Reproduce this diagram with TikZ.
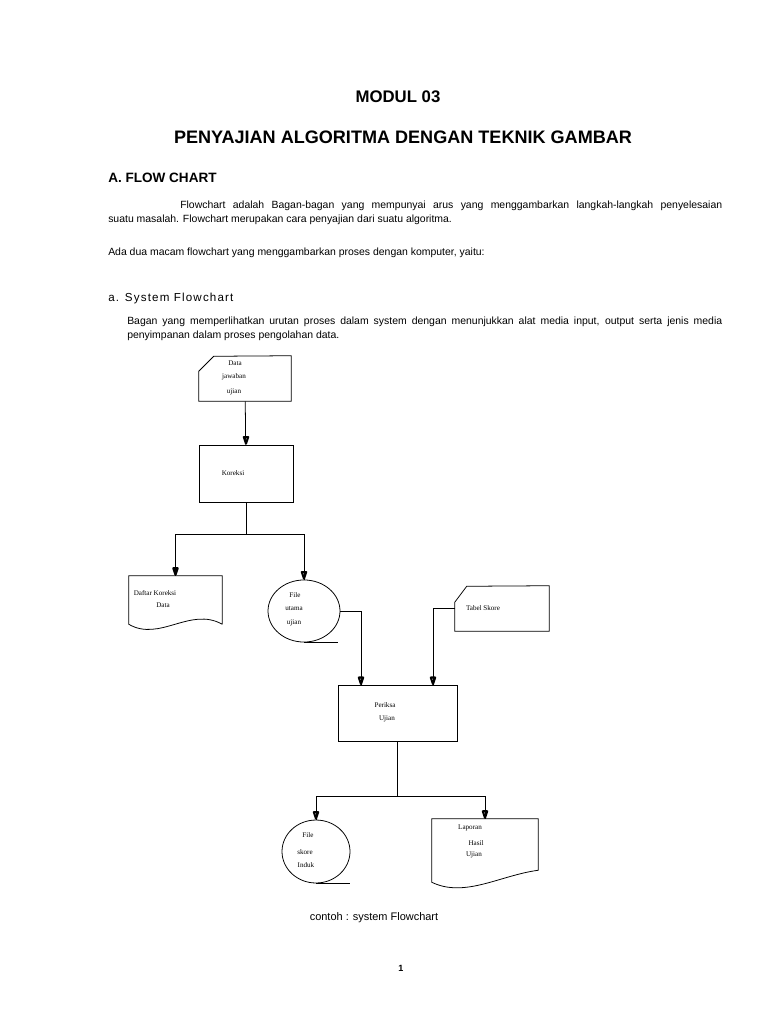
\documentclass[tikz,border=0pt]{standalone}
\usepackage{fontspec}
\setmainfont{Liberation Sans}
\newfontfamily\labelfont{Liberation Serif}
\usetikzlibrary{arrows.meta,positioning,shapes.geometric}

\begin{document}
\begin{tikzpicture}[x=0.7751pt,y=0.7751pt,
  every node/.style={inner sep=0pt},
  wire/.style={line width=0.6pt},
  tipdown/.pic={\draw[line width=1.6pt,line join=round] (0,1) -- (-2.2,7.5) -- (2.2,7.5) -- cycle;},
  proc/.style={draw,line width=0.6pt,rectangle},
  tape/.style={draw,line width=0.6pt,ellipse},
  docbox/.style={rectangle},
  lbl/.style={font=\labelfont\fontsize{5.5}{6.5}\selectfont},
  body/.style={font=\fontsize{8.1}{10}\selectfont,anchor=west}]
  \useasboundingbox (0,0) rectangle (768,-1024);
  % headings and text
  \node[font=\bfseries\fontsize{13}{15}\selectfont] (modul) at (398,-97) {MODUL 03};
  \node[font=\bfseries\fontsize{14}{16}\selectfont] (judul) at (403,-137) {PENYAJIAN ALGORITMA DENGAN TEKNIK GAMBAR};
  \node[font=\bfseries\fontsize{10.5}{12}\selectfont,anchor=west] (bagA) at (108,-178) {A. FLOW CHART};
  \node[body] (intro1) at (180,-206) {\makebox[420.1pt][s]{Flowchart adalah Bagan-bagan yang mempunyai arus yang menggambarkan langkah-langkah penyelesaian}};
  \node[body] (intro2) at (108,-220) {suatu masalah. Flowchart merupakan cara penyajian dari suatu algoritma.};
  \node[body] (macam) at (108,-253) {Ada dua macam flowchart yang menggambarkan proses dengan komputer, yaitu:};
  \node[body,font=\addfontfeatures{LetterSpace=10}\fontsize{9}{10}\selectfont] (sysfc) at (108,-298) {a. System Flowchart};
  \node[body] (bagan1) at (127,-322) {\makebox[461.2pt][s]{Bagan yang memperlihatkan urutan proses dalam system dengan menunjukkan alat media input, output serta jenis media}};
  \node[body] (bagan2) at (127,-336) {penyimpanan dalam proses pengolahan data.};
  \node[body,font=\fontsize{8.5}{10}\selectfont,anchor=center] (caption) at (374,-918) {contoh : system Flowchart};
  \node[font=\bfseries\fontsize{7}{8}\selectfont] (hal) at (401,-968) {1};
  % flowchart shapes
  \node[docbox,minimum width=71.3pt,minimum height=34.9pt] (jawaban) at (245,-378.5) {};
  \draw[wire] (jawaban.north east) -- (jawaban.south east) -- (jawaban.south west) -- ++(0,30) -- ++(15,15) -- cycle;
  \node[proc,minimum width=72.9pt,minimum height=44.2pt] (koreksi) at (246,-473.5) {};
  \node[docbox,minimum width=72.1pt,minimum height=37.2pt] (daftar) at (175.5,-600) {};
  \draw[wire] (daftar.south east) -- (daftar.north east) -- (daftar.north west) -- (daftar.south west) .. controls +(31,-18) and +(-32,18) .. (daftar.south east);
  \node[tape,minimum width=55.8pt,minimum height=48.1pt] (utama) at (304,-611) {};
  \draw[wire] (utama.south) -- ++(34,0);
  \node[docbox,minimum width=72.9pt,minimum height=34.9pt] (skore) at (502,-608.5) {};
  \draw[wire] (skore.north east) -- (skore.south east) -- (skore.south west) -- ++(0,29) -- ++(12,16) -- cycle;
  \node[proc,minimum width=92.2pt,minimum height=43.4pt] (periksa) at (397.5,-713) {};
  \node[tape,minimum width=52.7pt,minimum height=48.8pt] (induk) at (316,-851.5) {};
  \draw[wire] (induk.south) -- ++(34,0);
  \node[docbox,minimum width=82.2pt,minimum height=48.8pt] (laporan) at (485,-850.5) {};
  \draw[wire] (laporan.north west) -- (laporan.south west) .. controls +(33,-16) and +(-38,-5) .. ([yshift=9.3pt]laporan.south east) -- (laporan.north east) -- cycle;
  % labels
  \node[lbl] (t1) at (235,-363) {Data};
  \node[lbl] (t2) at (234,-377) {jawaban};
  \node[lbl] (t3) at (234,-392) {ujian};
  \node[lbl] (t4) at (233,-473) {Koreksi};
  \node[lbl] (t5) at (155,-593) {Daftar Koreksi};
  \node[lbl] (t6) at (163,-605) {Data};
  \node[lbl] (t7) at (295,-595) {File};
  \node[lbl] (t8) at (294,-609) {utama};
  \node[lbl] (t9) at (294,-623) {ujian};
  \node[lbl] (t10) at (483,-608) {Tabel Skore};
  \node[lbl] (t11) at (385,-705) {Periksa};
  \node[lbl] (t12) at (387,-719) {Ujian};
  \node[lbl] (t13) at (308,-835) {File};
  \node[lbl] (t14) at (305,-852) {skore};
  \node[lbl] (t15) at (306,-865) {Induk};
  \node[lbl] (t16) at (470,-828) {Laporan};
  \node[lbl] (t17) at (476,-843) {Hasil};
  \node[lbl] (t18) at (474,-855) {Ujian};
  % connectors
  \coordinate (masuk1) at (361,-685);
  \coordinate (masuk2) at (433,-685);
  \draw[wire] (jawaban) -- (koreksi);
  \draw[wire] (koreksi.south) -- ++(0,-32) -| (daftar.north);
  \draw[wire] (koreksi.south) -- ++(0,-32) -| (utama.north);
  \draw[wire] (utama.east) -| (masuk1);
  \draw[wire] (skore.west) -| (masuk2);
  \draw[wire] (periksa.south) -- ++(0,-55) -| (induk.north);
  \draw[wire] (periksa.south) -- ++(0,-55) -| (laporan.north);
  % arrow heads
  \foreach \ujung in {koreksi.north,daftar.north,utama.north,masuk1,masuk2,induk.north,laporan.north}
    \pic at (\ujung) {tipdown};
\end{tikzpicture}
\end{document}
